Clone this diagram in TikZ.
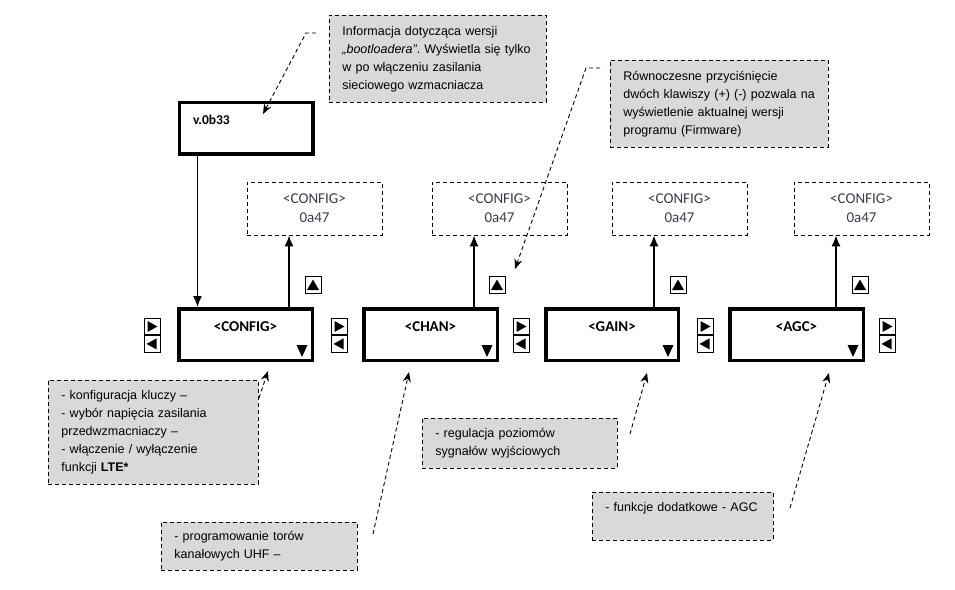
\documentclass[tikz,border=0pt]{standalone}
\usepackage{fontspec}
\setmainfont{Liberation Sans}
\newfontfamily\carlito{Carlito}
\usetikzlibrary{positioning,calc,arrows.meta}
\frenchspacing

\definecolor{notegray}{RGB}{217,217,217}
\definecolor{cfgtext}{RGB}{58,58,78}

\tikzset{
  mainbox/.style={draw, line width=3.5pt, minimum width=133.5pt, minimum height=51.5pt, inner sep=0pt,
    font=\carlito\bfseries\fontsize{15}{18}\selectfont, text height=10pt, text depth=17pt},
  cfgbox/.style={draw, line width=0.8pt, dash pattern=on 4pt off 3pt, minimum width=135pt, minimum height=53pt,
    align=center, text=cfgtext, font=\carlito\fontsize{15}{19}\selectfont},
  note/.style={draw, line width=0.8pt, dash pattern=on 4pt off 3pt, fill=notegray, anchor=north west,
    align=left, inner xsep=13pt, inner ysep=0pt, font=\fontsize{12.5}{18}\selectfont},
  btn/.style={draw, line width=0.9pt, minimum width=16pt, minimum height=16.5pt, inner sep=0pt},
  link/.style={line width=1.4pt, -{Latex[length=11pt,width=9pt]}},
  hint/.style={line width=0.9pt, dash pattern=on 4pt off 3pt, -{Stealth[length=10pt,width=8pt]}},
}

\begin{document}
\begin{tikzpicture}[x=1pt, y=-1pt]
    \useasboundingbox (0,0) rectangle (955,589);

    % bootloader version
    \node[mainbox, font=\carlito\bfseries\fontsize{13.5}{16}\selectfont, text width=106pt, align=left,
      text height=9pt, text depth=16pt] (ver) at (246,128) {v.0b33};
    \node[note, text width=191pt, minimum height=87pt] (info1) at (329,15)
      {Informacja dotycząca wersji\\ \mbox{\textit{„bootloadera”}. Wyświetla się tylko}\\ w po włączeniu zasilania\\ sieciowego wzmacniacza};
    \node[note, text width=192pt, minimum height=87pt] (info2) at (610,60)
      {Równoczesne przyciśnięcie\\ \mbox{dwóch klawiszy (+) (-) pozwala na}\\ wyświetlenie aktualnej wersji\\ programu (Firmware)};

    % menu
    \node[mainbox] (config) at (245.5,334.5) {<CONFIG>};
    \node[mainbox] (chan) at (430.5,334.5) {<CHAN>};
    \node[mainbox, minimum width=132.5pt] (gain) at (612,334.5) {<GAIN>};
    \node[mainbox] (agc) at (796.5,334.5) {<AGC>};

    % versions
    \node[cfgbox] (verconfig) at (314.5,208.5) {<CONFIG>\\0a47};
    \node[cfgbox] (verchan) at (499.5,208.5) {<CONFIG>\\0a47};
    \node[cfgbox] (vergain) at (679.5,208.5) {<CONFIG>\\0a47};
    \node[cfgbox] (veragc) at (861.5,208.5) {<CONFIG>\\0a47};

    \draw[link] (ver.south west) ++(20,0) coordinate (vdown) -- (vdown |- config.north);
    \foreach \b in {config,chan,gain,agc} {
        \path (ver\b.south) ++(-25.5,0) coordinate (t\b);
        \draw[link] (t\b |- \b.north) -- (t\b);
        \fill (\b.south east) ++(-17.5,-17) -- ++(11,0) -- ++(-5.5,12) -- cycle;
    }

    % keys
    \foreach \x/\b in {313/config,497/chan,678/gain,860/agc} {
        \node[btn] (up\b) at (\x,285) {};
        \fill (up\b.center) ++(-6,5) -- ++(12,0) -- ++(-6,-10.5) -- cycle;
    }
    \foreach \x [count=\i] in {152,339,521,705,887} {
        \node[btn] (fw\i) at (\x,326.5) {};
        \node[btn, below=0pt of fw\i] (bw\i) {};
        \fill (fw\i.center) ++(-4.5,-5.5) -- ++(10,5.5) -- ++(-10,5.5) -- cycle;
        \fill (bw\i.center) ++(4.5,-5.5) -- ++(-10,5.5) -- ++(10,5.5) -- cycle;
    }

    % descriptions
    \node[note, text width=184pt, minimum height=104pt] (noteconfig) at (48,380)
      {- konfiguracja kluczy –\\ - wybór napięcia zasilania\\ przedwzmacniaczy –\\ - włączenie / wyłączenie\\ funkcji \textbf{LTE*}};
    \node[note, text width=170pt, minimum height=48pt] (notechan) at (161,522)
      {- programowanie torów\\ kanałowych UHF –};
    \node[note, text width=169pt, minimum height=50pt] (notegain) at (422,418)
      {- regulacja poziomów\\ sygnałów wyjściowych};
    \node[note, text width=155pt, minimum height=48pt] (noteagc) at (592,492)
      {- funkcje dodatkowe - AGC\\ \mbox{}};

    % hints
    \coordinate (h1a) at (316,33);   \coordinate (h1b) at (263,114);
    \coordinate (h2a) at (600,68);   \coordinate (h2b) at (515,269);
    \coordinate (h3a) at (259,398);  \coordinate (h3b) at (268,371);
    \coordinate (h4a) at (373,534);  \coordinate (h4b) at (409,372);
    \coordinate (h5a) at (630,434);  \coordinate (h5b) at (647,373);
    \coordinate (h6a) at (790,508);  \coordinate (h6b) at (829,373);
    \draw[hint] (h1a) -- ++(-10,0) -- (h1b);
    \draw[hint] (h2a) -- ++(-14,0) -- (h2b);
    \draw[hint] (h3a) -- (h3b);
    \draw[hint] (h4a) -- (h4b);
    \draw[hint] (h5a) -- (h5b);
    \draw[hint] (h6a) -- (h6b);
\end{tikzpicture}
\end{document}
